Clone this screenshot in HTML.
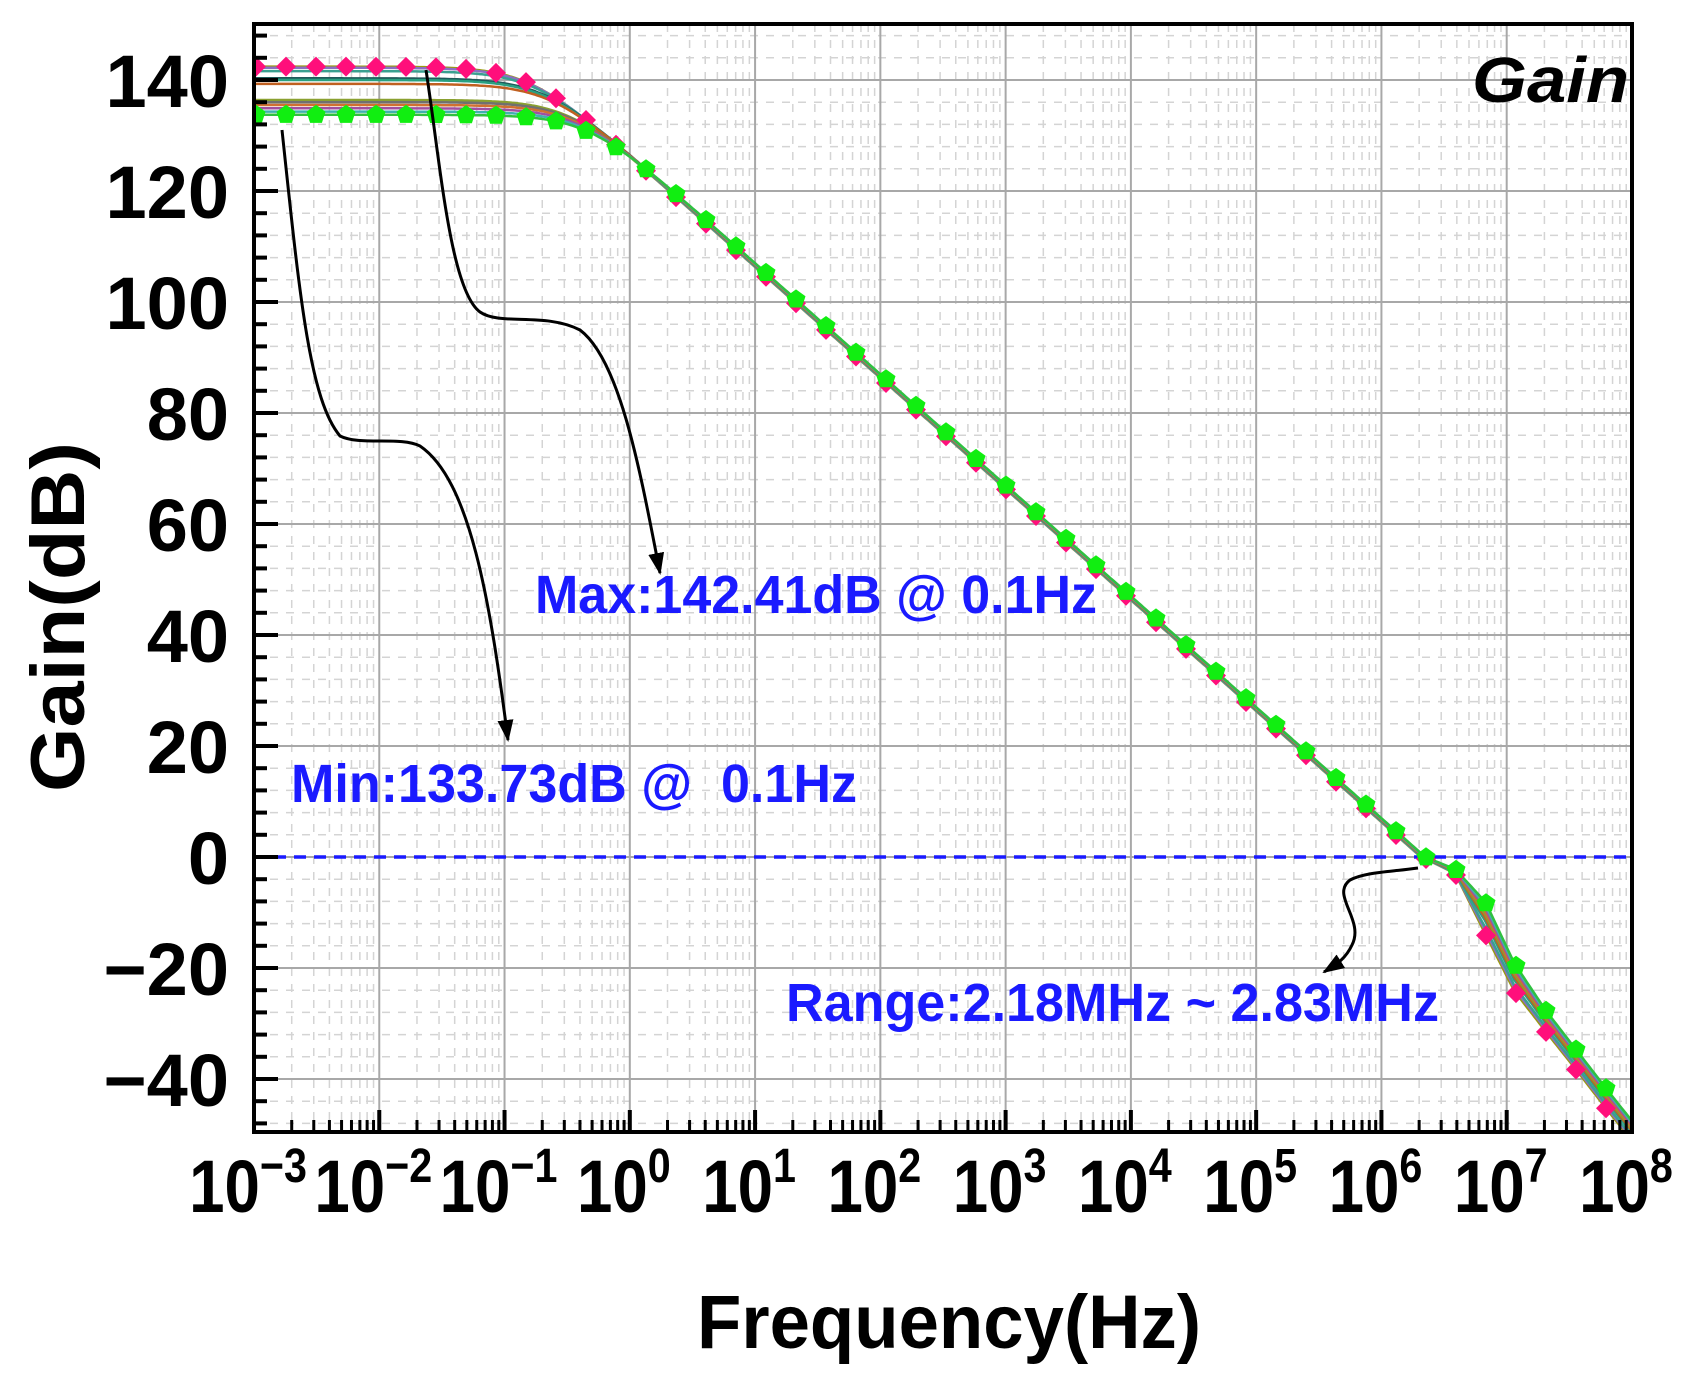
<!DOCTYPE html>
<html><head><meta charset="utf-8">
<style>
html,body{margin:0;padding:0;background:#fff;}
svg{display:block;}
text{font-family:"Liberation Sans",Arial,sans-serif;font-weight:bold;}
</style></head>
<body>
<svg id="s" width="1703" height="1378" viewBox="0 0 1703 1378" xmlns="http://www.w3.org/2000/svg">
<defs>
<marker id="ah2" markerWidth="22" markerHeight="16" refX="20" refY="8" orient="auto" markerUnits="userSpaceOnUse">
<path d="M0,0 L22,8 L0,16 Z" fill="#000"/>
</marker>
<clipPath id="cp"><rect x="254" y="24" width="1378" height="1108"/></clipPath>
</defs>
<g id="grid"></g>
<g id="curves" clip-path="url(#cp)"></g>
<line x1="254" y1="857" x2="1632" y2="857" stroke="#1a1aff" stroke-width="3.5" stroke-dasharray="12,8"/>
<g id="marks" clip-path="url(#cp)"></g>
<rect x="254" y="24" width="1378" height="1108" fill="none" stroke="#000" stroke-width="4"/>
<g id="ticks"></g>
<g id="labels"></g>
<path d="M282,130 C300,300 310,400 340,436 C360,446 400,436 420,446 C470,480 490,600 508,740" fill="none" stroke="#000" stroke-width="3" marker-end="url(#ah2)"/>
<path d="M426,70 C440,160 450,290 480,312 C500,326 545,312 580,330 C620,360 640,470 660,573" fill="none" stroke="#000" stroke-width="3" marker-end="url(#ah2)"/>
<path d="M1418,868 C1390,872 1365,872 1350,880 C1330,895 1365,920 1352,945 C1345,960 1335,965 1324,972" fill="none" stroke="#000" stroke-width="3" marker-end="url(#ah2)"/>
<text x="535" y="613" font-size="54" fill="#1a1aff" textLength="562" lengthAdjust="spacingAndGlyphs">Max:142.41dB @ 0.1Hz</text>
<text x="291" y="802" font-size="54" fill="#1a1aff" textLength="566" lengthAdjust="spacingAndGlyphs" xml:space="preserve">Min:133.73dB @  0.1Hz</text>
<text x="786" y="1021" font-size="54" fill="#1a1aff" textLength="653" lengthAdjust="spacingAndGlyphs">Range:2.18MHz ~ 2.83MHz</text>
<text x="1472" y="102" font-size="64" font-style="italic" fill="#000" textLength="157" lengthAdjust="spacingAndGlyphs">Gain</text>
<text x="949" y="1348" font-size="76" text-anchor="middle" fill="#000" textLength="504" lengthAdjust="spacingAndGlyphs">Frequency(Hz)</text>
<text transform="translate(84,617) rotate(-90)" font-size="76" text-anchor="middle" fill="#000" textLength="350" lengthAdjust="spacingAndGlyphs">Gain(dB)</text>
</svg>
<script>
(function(){
var NS="http://www.w3.org/2000/svg";
function el(p,t,a,txt){var e=document.createElementNS(NS,t);for(var k in a)e.setAttribute(k,a[k]);if(txt!==undefined)e.textContent=txt;document.getElementById(p).appendChild(e);return e;}
var X0=254,DEC=125.27,L=254,R=1632,T=24,B=1132;
function X(lf){return X0+(lf+3)*DEC;}
function Y(v){return 857-5.55*v;}
for(var d=-3;d<8;d++){for(var m=2;m<=9;m++){var x=X(d+Math.log10(m));el("grid","line",{x1:x,y1:T,x2:x,y2:B,stroke:"#d4d4d4","stroke-width":1.5,"stroke-dasharray":"8,8"});}}
for(var v=-48;v<=148;v+=4){if(v%20===0)continue;el("grid","line",{x1:L,y1:Y(v),x2:R,y2:Y(v),stroke:"#d4d4d4","stroke-width":1.5,"stroke-dasharray":"8,8"});}
for(var d=-2;d<8;d++){var x=X(d);el("grid","line",{x1:x,y1:T,x2:x,y2:B,stroke:"#a8a8a8","stroke-width":2});}
for(var v=-40;v<=140;v+=20){el("grid","line",{x1:L,y1:Y(v),x2:R,y2:Y(v),stroke:"#a8a8a8","stroke-width":2});}
for(var v=-48;v<=148;v+=4){var mj=(v%20===0);el("ticks","line",{x1:L,y1:Y(v),x2:L+(mj?24:13),y2:Y(v),stroke:"#000","stroke-width":4});}
for(var d=-3;d<=8;d++){var x=X(d);el("ticks","line",{x1:x,y1:B,x2:x,y2:B-22,stroke:"#000","stroke-width":4});
 if(d<8)for(var m=2;m<=9;m++){var xm=X(d+Math.log10(m));el("ticks","line",{x1:xm,y1:B,x2:xm,y2:B-12,stroke:"#000","stroke-width":3});}}
for(var v=-40;v<=140;v+=20){var s=v<0?"\u2212"+(-v):""+v;el("labels","text",{x:229,y:Y(v)+27,"font-size":74,"text-anchor":"end",fill:"#000"},s);}
for(var d=-3;d<=8;d++){var x=X(d);
 var g=el("labels","g",{transform:"translate("+(x-6)+",1212) scale(0.86,1)"});
 var t=document.createElementNS(NS,"text");t.setAttribute("x",0);t.setAttribute("y",0);t.setAttribute("font-size","74");t.setAttribute("text-anchor","middle");t.setAttribute("fill","#000");g.appendChild(t);
 var a=document.createElementNS(NS,"tspan");a.textContent="10";t.appendChild(a);
 var b=document.createElementNS(NS,"tspan");b.setAttribute("dy","-30");b.setAttribute("font-size","48");b.textContent=(d<0?"\u2212":"")+Math.abs(d);t.appendChild(b);}
var gH=[[6.35,0],[6.59,-2.2],[6.83,-8.1],[7.06,-19.1],[7.31,-27.6],[7.55,-34.6],[7.79,-41.6],[8.05,-49]];
var pH=[[6.35,-0.3],[6.59,-3.0],[6.83,-13.9],[7.06,-24.1],[7.31,-31.4],[7.55,-38.2],[7.79,-45.2],[8.05,-52.5]];
function interp(P,lf){for(var i=0;i<P.length-1;i++){if(lf<=P[i+1][0]){var u=(lf-P[i][0])/(P[i+1][0]-P[i][0]);return P[i][1]+u*(P[i+1][1]-P[i][1]);}}return P[P.length-1][1];}
function G(G0,t,lf){
 var lu=6.35-0.035*t;
 if(lf<=6.35){var lp=lu-G0/20;var f=Math.pow(10,lf-lp);return G0-10*Math.log10(1+f*f);}
 return interp(gH,lf)*(1-t)+interp(pH,lf)*t;}
var series=[[142.41,1,"#9a9a10"],[142.2,0.9,"#8a6fc0"],[141.6,0.8,"#3aa090"],[140.3,0.5,"#205a5a"],[140.0,0.6,"#2aa080"],[139.3,0.5,"#c06020"],[136.4,0.4,"#8aa030"],[136.0,0.3,"#707070"],[135.5,0.3,"#d07030"],[134.9,0.2,"#a050a0"],[134.3,0.1,"#40b0b0"],[133.73,0,"#30c040"]];
series.forEach(function(s){var pts=[];for(var lf=-3;lf<=8.01;lf+=0.02){pts.push(X(lf).toFixed(1)+","+Y(G(s[0],s[1],lf)).toFixed(1));}
 el("curves","polyline",{points:pts.join(" "),fill:"none",stroke:s[2],"stroke-width":2.5});});
for(var k=0;k<=45;k++){var x=256+30*k;var lf=(x-X0)/DEC-3;
 var yp=Y(G(142.41,1,lf));el("marks","path",{d:"M"+x+","+(yp-10)+" L"+(x+10)+","+yp+" L"+x+","+(yp+10)+" L"+(x-10)+","+yp+"Z",fill:"#ff0f7b"});}
for(var k=0;k<=45;k++){var x=256+30*k;var lf=(x-X0)/DEC-3;
 var yg=Y(G(133.73,0,lf));var p=[];for(var i=0;i<5;i++){var a=-Math.PI/2+i*2*Math.PI/5;p.push((x+10*Math.cos(a)).toFixed(1)+","+(yg+10*Math.sin(a)).toFixed(1));}
 el("marks","polygon",{points:p.join(" "),fill:"#11ee11"});}
})();
</script>
</body></html>
